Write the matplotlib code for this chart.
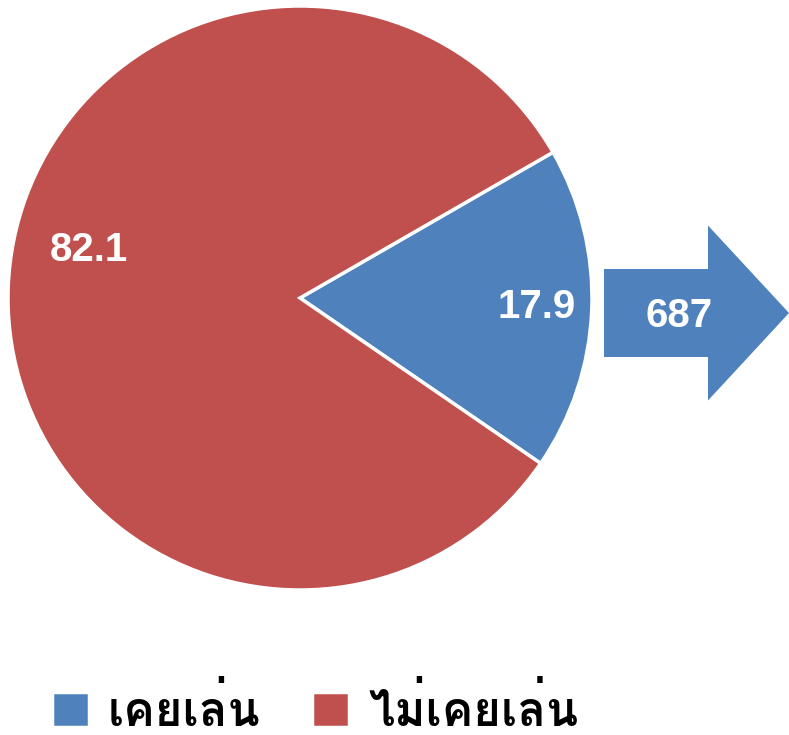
import numpy as np
import matplotlib.pyplot as plt
from matplotlib import font_manager
from matplotlib.ft2font import FT2Font
from matplotlib.patches import FancyArrow

# find an installed font that can draw Thai
thai_family = None
for f in font_manager.fontManager.ttflist:
    try:
        if 0x0E40 in FT2Font(f.fname).get_charmap():
            thai_family = f.name
            break
    except Exception:
        pass
families = ([thai_family] if thai_family else []) + ['Liberation Sans', 'DejaVu Sans']
plt.rcParams['font.family'] = families

# Data
labels = ['เคยเล่น', 'ไม่เคยเล่น']
values = [17.9, 82.1]
colors = ['#4F81BD', '#C0504D']
arrow_value = 687

fig = plt.figure(figsize=(7.89, 7.35), dpi=100)
ax = fig.add_axes([0, 0, 1, 1])

cx, cy, r = 300, 437, 292
wedges, _ = ax.pie(values, colors=colors, startangle=-34.5, center=(cx, cy), radius=r,
                   wedgeprops=dict(edgecolor='white', linewidth=2.5), frame=True)
ax.set_xlim(0, 789)
ax.set_ylim(0, 735)
ax.axis('off')

# value labels (angle shift, distance as fraction of radius)
label_place = [(0, 0.81), (-10.5, 0.74)]
for w, v, (shift, dist) in zip(wedges, values, label_place):
    ang = np.deg2rad((w.theta1 + w.theta2) / 2 + shift)
    ax.text(cx + dist * r * np.cos(ang), cy + dist * r * np.sin(ang), f'{v:.1f}',
            ha='center', va='center', color='white', fontsize=29, fontweight='bold',
            family=['Liberation Sans', 'DejaVu Sans'])

# arrow with count
ax.add_patch(FancyArrow(604, 735 - 313, 185, 0, width=88, head_width=175, head_length=81,
                        length_includes_head=True, color=colors[0], linewidth=0))
ax.text(679, 735 - 316, str(arrow_value), ha='center', va='center', color='white',
        fontsize=29, fontweight='bold', family=['Liberation Sans', 'DejaVu Sans'])

ax.legend(wedges, labels, loc='lower left', bbox_to_anchor=(0.012, -0.058), ncol=2,
          frameon=False, handlelength=0.78, handleheight=0.78,
          columnspacing=1.1, handletextpad=0.4, prop=dict(size=34, weight='bold'))

fig.savefig('out.png', dpi=100)
